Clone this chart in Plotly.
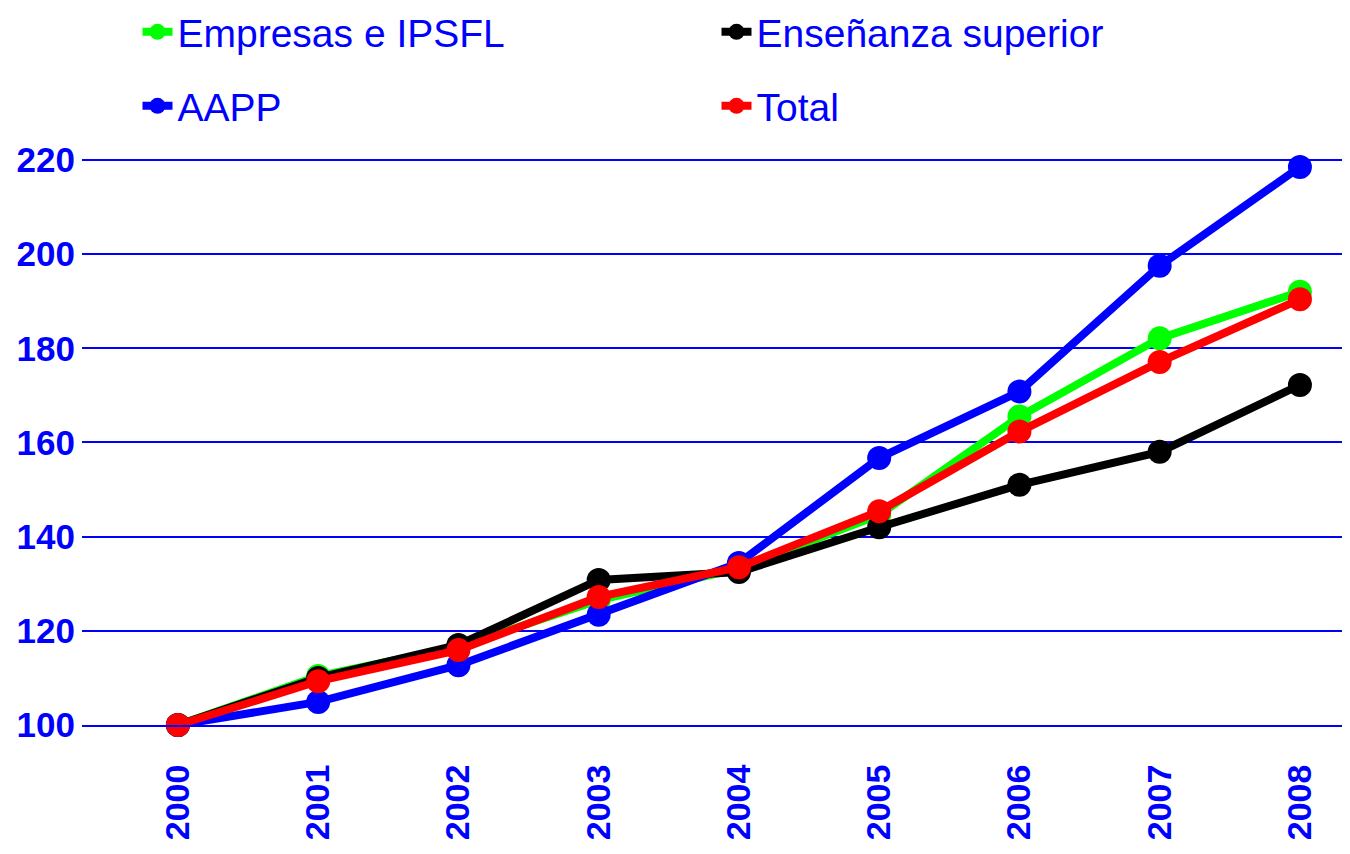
import plotly.graph_objects as go

years = [2000, 2001, 2002, 2003, 2004, 2005, 2006, 2007, 2008]
empresas = [100, 110.4, 116.6, 126.5, 133.2, 144.6, 165.5, 182.1, 192.0]
ensenanza = [100, 110.0, 117.0, 130.8, 132.5, 142.0, 151.0, 158.0, 172.2]
aapp = [100, 104.9, 112.7, 123.4, 134.4, 156.7, 170.8, 197.5, 218.5]
total = [100, 109.3, 115.9, 127.2, 133.5, 145.4, 162.3, 177.1, 190.4]

series = [
    ("Empresas e IPSFL", empresas, "#00FF00", "legend"),
    ("Enseñanza superior", ensenanza, "#000000", "legend"),
    ("AAPP", aapp, "#0000FF", "legend2"),
    ("Total", total, "#FF0000", "legend2"),
]

fig = go.Figure()
for name, vals, col, lg in series:
    fig.add_trace(go.Scatter(
        x=years, y=vals, name=name, mode="lines+markers",
        line=dict(color=col, width=8),
        marker=dict(color=col, size=24),
        cliponaxis=False, legend=lg,
    ))

legfont = dict(family="Liberation Sans, Arial", size=39, color="#0000FF")
W, H = 1342, 838
fig.update_layout(
    width=W, height=H,
    margin=dict(l=74, r=0, t=142, b=121),
    paper_bgcolor="white", plot_bgcolor="white",
    showlegend=True,
    legend=dict(orientation="h", x=0.0965, y=1 - 24 / H, xref="container", yref="container",
                xanchor="left", yanchor="middle", entrywidth=534, entrywidthmode="pixels",
                font=legfont, bgcolor="rgba(0,0,0,0)"),
    legend2=dict(orientation="h", x=0.0965, y=1 - 98 / H, xref="container", yref="container",
                 xanchor="left", yanchor="middle", entrywidth=534, entrywidthmode="pixels",
                 font=legfont, bgcolor="rgba(0,0,0,0)"),
    xaxis=dict(
        range=[1999.316, 2008.357], tickmode="array", tickvals=years,
        ticktext=[str(y) for y in years], tickangle=-90,
        tickfont=dict(family="Liberation Sans, Arial", size=34, color="#0000FF", weight="bold"),
        showgrid=False, zeroline=False, ticks="", ticklabelstandoff=24,
        showline=True, linecolor="#0000FF", linewidth=2,
    ),
    yaxis=dict(
        range=[100, 222.1], tickvals=[100, 120, 140, 160, 180, 200, 220],
        tickfont=dict(family="Liberation Sans, Arial", size=35, color="#0000FF", weight="bold"),
        showgrid=True, gridcolor="#0000FF", gridwidth=2, zeroline=False,
        ticks="", ticklabelstandoff=6, showline=False,
    ),
)

fig.write_html("out.html")
